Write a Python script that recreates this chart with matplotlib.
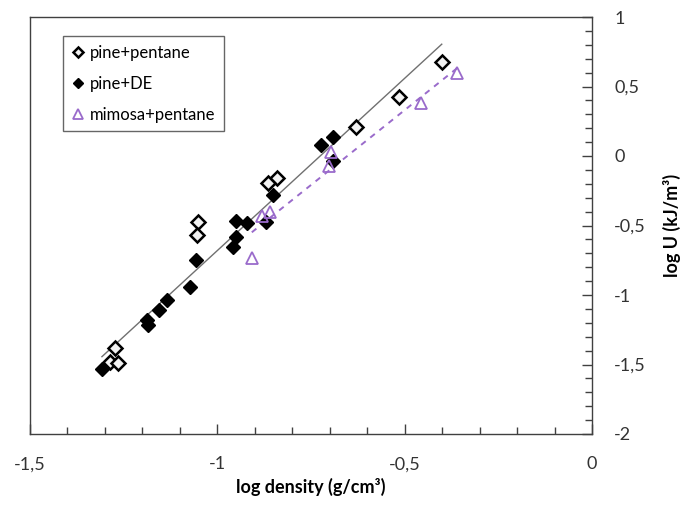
import numpy as np
import matplotlib
matplotlib.use('Agg')
import matplotlib.pyplot as plt
from matplotlib.ticker import MultipleLocator, FuncFormatter

plt.rcParams['font.family'] = ['Lato', 'DejaVu Sans']

# pine+pentane (open diamonds)
pp_x = [-0.401, -0.516, -0.631, -0.841, -0.865, -1.052, -1.055, -1.273, -1.287, -1.265]
pp_y = [0.676, 0.424, 0.209, -0.158, -0.194, -0.475, -0.568, -1.381, -1.482, -1.489]

# pine+DE (filled diamonds)
pd_x = [-0.692, -0.724, -0.692, -0.852, -0.871, -0.951, -0.921, -0.951, -0.959,
        -1.057, -1.073, -1.135, -1.156, -1.188, -1.185, -1.308]
pd_y = [0.137, 0.079, -0.036, -0.281, -0.475, -0.468, -0.482, -0.583, -0.655,
        -0.748, -0.942, -1.036, -1.108, -1.180, -1.216, -1.532]

# mimosa+pentane (open triangles)
mp_x = [-0.361, -0.457, -0.697, -0.703, -0.860, -0.881, -0.908]
mp_y = [0.597, 0.381, 0.029, -0.072, -0.403, -0.432, -0.734]

purple = '#9A6BCB'

fig = plt.figure(figsize=(6.85, 5.09), dpi=100)
ax = fig.add_axes([30/685, 1 - 434/509, 562/685, 417/509])

# linear trend lines
pine_x = np.array(pp_x + pd_x)
pine_y = np.array(pp_y + pd_y)
k, b = np.polyfit(pine_x, pine_y, 1)
xs = np.array([pine_x.min(), pine_x.max()])
ax.plot(xs, k * xs + b, color='#707070', lw=1.0, zorder=1)

k2, b2 = np.polyfit(mp_x, mp_y, 1)
xs2 = np.array([min(mp_x), max(mp_x)])
ax.plot(xs2, k2 * xs2 + b2, color=purple, lw=1.4, ls=(0, (3, 3)), zorder=1)

ax.plot(pp_x, pp_y, ls='none', marker='D', ms=7, mfc='#f2f2f2', mec='black', mew=1.8,
        label='pine+pentane', zorder=3)
ax.plot(pd_x, pd_y, ls='none', marker='D', ms=7, mfc='black', mec='black', mew=1.0,
        label='pine+DE', zorder=3)
ax.plot(mp_x, mp_y, ls='none', marker='^', ms=9, mfc='none', mec=purple, mew=1.3,
        label='mimosa+pentane', zorder=3)

ax.set_xlim(-1.5, 0)
ax.set_ylim(-2, 1)

comma = FuncFormatter(lambda v, p: ('%g' % v).replace('.', ','))
ax.xaxis.set_major_locator(MultipleLocator(0.5))
ax.xaxis.set_minor_locator(MultipleLocator(0.1))
ax.yaxis.set_major_locator(MultipleLocator(0.5))
ax.yaxis.set_minor_locator(MultipleLocator(0.1))
ax.xaxis.set_major_formatter(comma)
ax.yaxis.set_major_formatter(comma)
ax.yaxis.tick_right()
ax.yaxis.set_label_position('right')

ax.tick_params(axis='x', which='both', direction='in', top=False, colors='#404040',
               labelcolor='#333333', labelsize=13, pad=16)
ax.tick_params(axis='y', which='both', direction='in', left=False, colors='#404040',
               labelcolor='#333333', labelsize=13, pad=16)
ax.tick_params(which='major', length=7, width=1)
ax.tick_params(which='minor', length=5, width=1)

for s in ax.spines.values():
    s.set_color('#404040')
    s.set_linewidth(1.0)

ax.set_xlabel('log density (g/cm³)', fontsize=13, fontweight='bold', labelpad=4)
ax.set_ylabel('log U (kJ/m³)', fontsize=13, fontweight='bold', labelpad=12)

leg = ax.legend(loc='upper left', bbox_to_anchor=(55/685, 1 - 28/509),
                bbox_transform=fig.transFigure, frameon=True, fancybox=False,
                fontsize=12, handlelength=0.8, handletextpad=0.3, borderpad=0.5,
                labelspacing=0.9, markerscale=0.8)
leg.get_frame().set_edgecolor('#404040')
leg.get_frame().set_linewidth(1.0)

fig.savefig('out.png', dpi=100)
